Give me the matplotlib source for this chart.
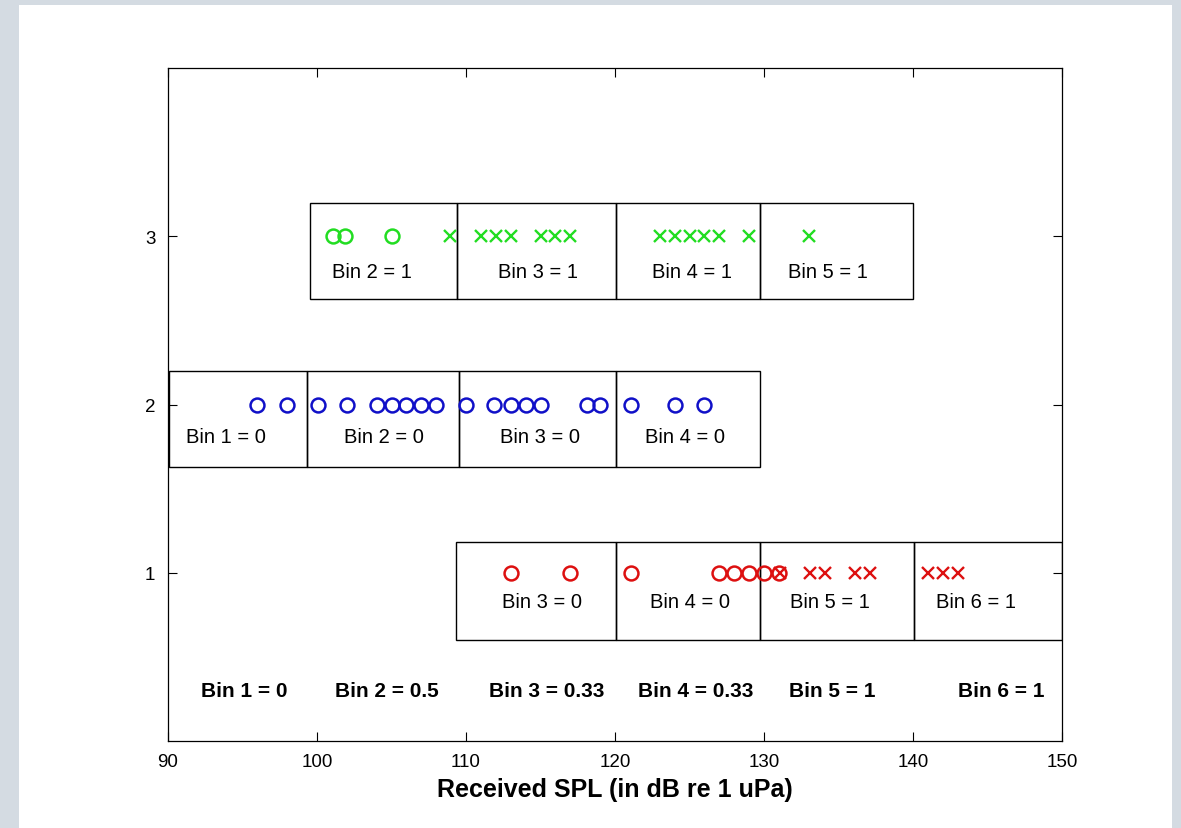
import matplotlib
matplotlib.use("Agg")
import matplotlib.pyplot as plt
from matplotlib.patches import Rectangle

plt.rcParams['font.family'] = ['Liberation Sans', 'DejaVu Sans']

# --- data -----------------------------------------------------------------
# marker positions (received SPL, dB) per row
green_circles = [101.1, 101.9, 105.0]
green_crosses = [108.9, 111, 112, 113, 115, 116, 117, 123, 124, 125, 126, 127, 129, 133]
blue_circles = [96, 98, 100.1, 102, 104, 105, 106, 107, 108, 110, 111.9, 113, 114, 115,
                118.1, 119, 121.1, 124, 126]
red_circles = [113, 117, 121.1, 127, 128, 129, 130, 131]
red_crosses = [131.1, 133.1, 134.1, 136.1, 137.1, 141, 142, 143]

# bin box edges per row
green_edges = [99.5, 109.4, 120.1, 129.7, 140.0]
blue_edges = [90.1, 99.3, 109.5, 120.1, 129.7]
red_edges = [109.3, 120.1, 129.7, 140.1, 150.0]

# bin numbers / values shown in each row
green_bins = [2, 3, 4, 5]
green_vals = ['1', '1', '1', '1']
blue_bins = [1, 2, 3, 4]
blue_vals = ['0', '0', '0', '0']
red_bins = [3, 4, 5, 6]
red_vals = ['0', '0', '1', '1']

# summary row
summary_bins = [1, 2, 3, 4, 5, 6]
summary_vals = ['0', '0.5', '0.33', '0.33', '1', '1']

# --- layout ---------------------------------------------------------------
green_lab_x = [103.7, 114.8, 125.2, 134.3]
blue_lab_x = [93.9, 104.5, 115.0, 124.7]
red_lab_x = [115.1, 125.0, 134.4, 144.2]
summary_x = [95.1, 104.7, 115.4, 125.4, 134.6, 145.9]

GREEN = '#22dd22'
BLUE = '#1010c8'
RED = '#dd1010'

fig = plt.figure(figsize=(11.81, 8.29), dpi=100)
fig.patch.set_facecolor('#d4dbe2')
fig.add_artist(Rectangle((19 / 1181, 0), (1172 - 19) / 1181, 1 - 6 / 829,
                         transform=fig.transFigure, facecolor='white',
                         edgecolor='none', zorder=0))

ax = fig.add_axes([168 / 1181, 1 - 742 / 829, (1062 - 168) / 1181, (742 - 69) / 829])
ax.set_xlim(90, 150)
ax.set_ylim(0, 4)
ax.set_yticks([1, 2, 3])
ax.set_xticks(range(90, 151, 10))
ax.tick_params(direction='in', top=True, right=True, length=6.5, width=0.8,
               labelsize=13.5, pad=9)
for s in ax.spines.values():
    s.set_linewidth(0.9)


def draw_row(edges, y0, y1, bins, vals, lab_x, lab_y):
    for i in range(len(edges) - 1):
        ax.add_patch(Rectangle((edges[i], y0), edges[i + 1] - edges[i], y1 - y0,
                               facecolor='none', edgecolor='black', linewidth=1.0,
                               zorder=2))
    for b, v, x in zip(bins, vals, lab_x):
        ax.text(x, lab_y, 'Bin %d = %s' % (b, v), ha='center', va='center',
                fontsize=14.5, zorder=3)


draw_row(green_edges, 2.625, 3.196, green_bins, green_vals, green_lab_x, 2.79)
draw_row(blue_edges, 1.63, 2.2, blue_bins, blue_vals, blue_lab_x, 1.81)
draw_row(red_edges, 0.6, 1.18, red_bins, red_vals, red_lab_x, 0.83)

ms_o, ms_x = 10, 8
ax.plot(green_circles, [3] * len(green_circles), 'o', mfc='none', mec=GREEN, ms=ms_o, mew=1.8, zorder=4)
ax.plot(green_crosses, [3] * len(green_crosses), 'x', color=GREEN, ms=ms_x, mew=1.7, zorder=4)
ax.plot(blue_circles, [2] * len(blue_circles), 'o', mfc='none', mec=BLUE, ms=ms_o, mew=1.8, zorder=4)
ax.plot(red_circles, [1] * len(red_circles), 'o', mfc='none', mec=RED, ms=ms_o, mew=1.8, zorder=4)
ax.plot(red_crosses, [1] * len(red_crosses), 'x', color=RED, ms=ms_x, mew=1.7, zorder=4)

for b, v, x in zip(summary_bins, summary_vals, summary_x):
    ax.text(x, 0.30, 'Bin %d = %s' % (b, v), ha='center', va='center',
            fontsize=15, fontweight='bold')

ax.set_xlabel('Received SPL (in dB re 1 uPa)', fontsize=18, fontweight='bold', labelpad=5)

fig.savefig('out.png', dpi=100, facecolor=fig.get_facecolor())
